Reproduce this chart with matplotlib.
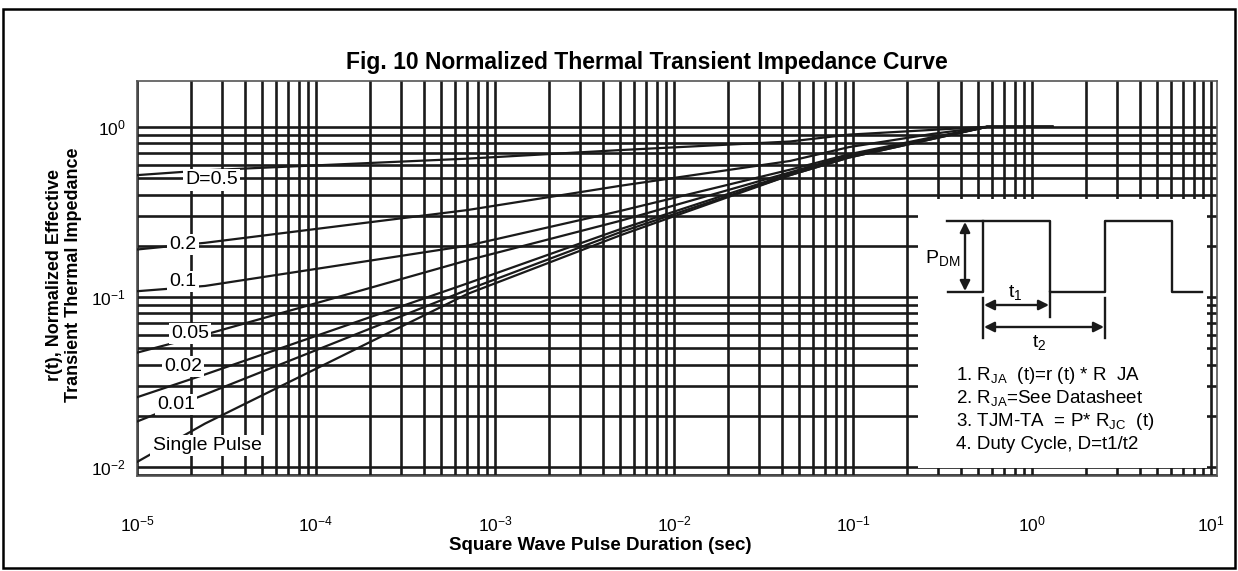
import numpy as np
import matplotlib
matplotlib.use("Agg")
import matplotlib.pyplot as plt
from matplotlib.ticker import LogLocator, NullFormatter
from matplotlib.patches import Rectangle, FancyArrowPatch
from matplotlib.lines import Line2D

t_sec = [1e-5, 2.4e-5, 7e-4, 5e-3, 4.45e-2, 9.5e-2, 2.8e-1, 5.6e-1, 1.3]

# normalized transient thermal impedance r(t) per duty cycle
r_d050 = [0.52, 0.555, 0.65, 0.73, 0.82, 0.90, 0.96, 1.0, 1.0]
r_d020 = [0.19, 0.208, 0.324, 0.45, 0.63, 0.76, 0.91, 1.0, 1.0]
r_d010 = [0.108, 0.116, 0.20, 0.32, 0.56, 0.69, 0.87, 1.0, 1.0]
r_d005 = [0.047, 0.06, 0.164, 0.28, 0.54, 0.68, 0.86, 1.0, 1.0]
r_d002 = [0.0257, 0.035, 0.12, 0.25, 0.53, 0.67, 0.86, 1.0, 1.0]
r_d001 = [0.0185, 0.0267, 0.11, 0.24, 0.52, 0.66, 0.85, 1.0, 1.0]
r_single = [0.0107, 0.018, 0.104, 0.23, 0.52, 0.66, 0.85, 1.0, 1.0]

curves = [r_d050, r_d020, r_d010, r_d005, r_d002, r_d001, r_single]
curve_labels = ["D=0.5", "0.2", "0.1", "0.05", "0.02", "0.01", "Single Pulse"]
# where each label sits (t, r)
label_pos = [(2.62e-5, 0.487), (1.81e-5, 0.203), (1.81e-5, 0.123), (1.98e-5, 0.0612),
             (1.81e-5, 0.039), (1.65e-5, 0.0232), (2.46e-5, 0.0134)]

x_decades = [1e-5, 1e-4, 1e-3, 1e-2, 1e-1, 1e0, 1e1]
y_decades = [1e-2, 1e-1, 1e0]

notes = [r"1. R$_{\rm JA}$  (t)=r (t) * R  JA",
         r"2. R$_{\rm JA}$=See Datasheet",
         r"3. TJM-TA  = P* R$_{\rm JC}$  (t)",
         "4. Duty Cycle, D=t1/t2"]

plt.rcParams['font.family'] = 'Liberation Sans'
plt.rcParams['mathtext.fontset'] = 'custom'
plt.rcParams['mathtext.rm'] = 'Liberation Sans'
plt.rcParams['mathtext.it'] = 'Liberation Sans:italic'
plt.rcParams['mathtext.bf'] = 'Liberation Sans:bold'

W, H = 1238, 571
fig = plt.figure(figsize=(W / 100, H / 100), dpi=100)
ax = fig.add_axes([137 / W, 1 - 476 / H, 1080 / W, 395 / H])


def px(x, y):
    """pixel position -> figure fraction"""
    return x / W, 1 - y / H


ink = '#1a1a1a'

ax.set_xscale('log')
ax.set_yscale('log')
ax.set_xlim(1e-5, 10.8)
ax.set_ylim(0.00885, 1.86)
ax.set_xticks(x_decades)
ax.set_yticks(y_decades)
for a in (ax.xaxis, ax.yaxis):
    a.set_minor_locator(LogLocator(base=10, subs=np.arange(2, 10), numticks=100))
    a.set_minor_formatter(NullFormatter())
ax.set_xlim(1e-5, 10.8)
ax.set_ylim(0.00885, 1.86)
ax.set_axisbelow(True)
ax.grid(True, which='both', color=ink, linewidth=1.9)
ax.tick_params(which='both', length=0)
ax.tick_params(axis='x', pad=28, labelsize=12.5)
ax.tick_params(axis='y', pad=8, labelsize=12.5)
for s in ax.spines.values():
    s.set_color('#555555')
    s.set_linewidth(1.2)

# white panel holding the pulse sketch and notes
ax.add_patch(Rectangle((0.723, 0.02), 0.268, 0.68, transform=ax.transAxes,
                       facecolor='white', edgecolor='none', zorder=2))

for r in curves:
    ax.plot(t_sec, r, color=ink, linewidth=1.6, zorder=3)

for lab, (tx, ty) in zip(curve_labels, label_pos):
    ax.text(tx, ty, lab, fontsize=14, ha='center', va='center', zorder=4,
            bbox=dict(facecolor='white', edgecolor='none', pad=1.5))

# pulse sketch
yt, yl = 221, 292
wave_x = [947, 983, 983, 1050, 1050, 1105, 1105, 1172, 1172, 1202]
wave_y = [yt, yt, yt, yt, yl, yl, yt, yt, yl, yl]
xs, ys = zip(*[px(x, y) for x, y in zip(wave_x, wave_y)])
fig.add_artist(Line2D(xs, ys, color=ink, lw=1.7))
# left step of the first pulse
fig.add_artist(Line2D(*zip(px(948, yl), px(983, yl), px(983, yt)), color=ink, lw=1.7))
# extension ticks
for x0, y0, y1 in [(983, 298, 338), (1050, yl, 317), (1105, 298, 338)]:
    fig.add_artist(Line2D(*zip(px(x0, y0), px(x0, y1)), color=ink, lw=1.7))

arrow = dict(arrowstyle='<|-|>', color=ink, lw=1.7, mutation_scale=15, shrinkA=0, shrinkB=0)
for p0, p1 in [((965, yt + 1), (965, yl - 1)), ((984, 305), (1049, 305)), ((984, 327), (1104, 327))]:
    fig.add_artist(FancyArrowPatch(px(*p0), px(*p1), transform=fig.transFigure, **arrow))
fig.text(*px(943, 258), r"P$_{\rm DM}$", fontsize=14, ha='center', va='center')
fig.text(*px(1015, 292), r"t$_1$", fontsize=14, ha='center', va='center')
fig.text(*px(1039, 343), r"t$_2$", fontsize=14, ha='center', va='center')

for i, line in enumerate(notes):
    fig.text(*px(956, 375 + 23.3 * i), line, fontsize=13.5, ha='left', va='center')

fig.text(*px(647, 62), "Fig. 10 Normalized Thermal Transient Impedance Curve",
         fontsize=16.5, fontweight='bold', ha='center', va='center')
fig.text(*px(600, 546), "Square Wave Pulse Duration (sec)",
         fontsize=13.5, fontweight='bold', ha='center', va='center')
fig.text(*px(64, 275), "r(t), Normalized Effective\nTransient Thermal Impedance",
         fontsize=13, fontweight='bold', ha='center', va='center', rotation=90,
         linespacing=1.1)

# outer border of the datasheet figure
fig.add_artist(Rectangle(px(3, 568), 1232 / W, 559 / H, transform=fig.transFigure,
                         fill=False, edgecolor='black', lw=1.8))

fig.savefig('out.png', dpi=100)
